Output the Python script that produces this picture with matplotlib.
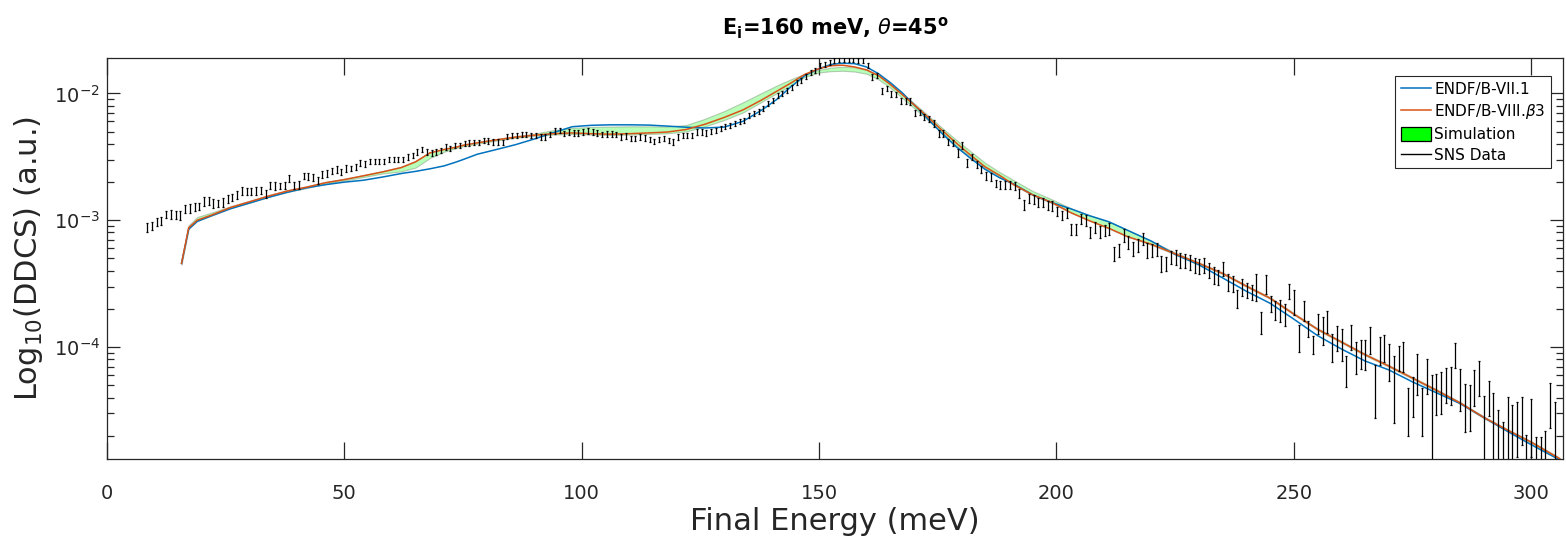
import numpy as np
import matplotlib
matplotlib.use("Agg")
import matplotlib.pyplot as plt
from matplotlib.lines import Line2D
from matplotlib.patches import Patch

# ---------------- data ----------------
title_text = r'$\mathbf{E_i}$=160 meV, $\theta$=45$^{\mathbf{o}}$'
x_label = 'Final Energy (meV)'
y_label = r'Log$_{10}$(DDCS) (a.u.)'
legend_labels = ['ENDF/B-VII.1', r'ENDF/B-VIII.$\beta$3', 'Simulation', 'SNS Data']
x_ticks = [0, 50, 100, 150, 200, 250, 300]

# SNS measured data: log10(DDCS) on a ~1 meV grid from 8.45 to 305 meV
sns_first_energy = 8.45
sns_last_energy = 305.0
sns_log10_ddcs = [
    -3.057, -3.047, -3.013, -3.005, -2.955, -2.955, -2.960, -2.960, -2.908, -2.905,
    -2.895, -2.890, -2.848, -2.845, -2.864, -2.868, -2.860, -2.829, -2.820, -2.803,
    -2.769, -2.772, -2.772, -2.769, -2.764, -2.790, -2.724, -2.727, -2.730, -2.727,
    -2.672, -2.724, -2.720, -2.651, -2.655, -2.664, -2.685, -2.638, -2.630, -2.610,
    -2.600, -2.620, -2.593, -2.590, -2.580, -2.549, -2.555, -2.535, -2.535, -2.535,
    -2.535, -2.522, -2.522, -2.522, -2.522, -2.501, -2.488, -2.462, -2.443, -2.462,
    -2.470, -2.462, -2.449, -2.423, -2.436, -2.409, -2.409, -2.396, -2.391, -2.388,
    -2.388, -2.370, -2.375, -2.383, -2.383, -2.388, -2.339, -2.331, -2.331, -2.323,
    -2.323, -2.331, -2.331, -2.344, -2.344, -2.323, -2.297, -2.292, -2.317, -2.305,
    -2.310, -2.310, -2.305, -2.297, -2.305, -2.310, -2.325, -2.318, -2.318, -2.325,
    -2.344, -2.336, -2.357, -2.357, -2.344, -2.352, -2.362, -2.378, -2.362, -2.357,
    -2.370, -2.383, -2.344, -2.331, -2.331, -2.331, -2.305, -2.305, -2.310, -2.299,
    -2.291, -2.278, -2.260, -2.252, -2.239, -2.220, -2.213, -2.173, -2.160, -2.142,
    -2.116, -2.082, -2.055, -2.020, -2.000, -1.976, -1.950, -1.911, -1.898, -1.864,
    -1.832, -1.819, -1.780, -1.775, -1.753, -1.740, -1.735, -1.735, -1.735, -1.735,
    -1.740, -1.740, -1.780, -1.870, -1.860, -1.980, -1.960, -2.005, -2.010, -2.060,
    -2.060, -2.063, -2.155, -2.150, -2.187, -2.200, -2.239, -2.317, -2.317, -2.383,
    -2.390, -2.470, -2.410, -2.550, -2.500, -2.560, -2.600, -2.651, -2.660, -2.710,
    -2.720, -2.720, -2.720, -2.730, -2.790, -2.875, -2.830, -2.835, -2.856, -2.860,
    -2.880, -2.885, -2.928, -2.961, -2.940, -3.070, -3.070, -2.990, -3.000, -3.092,
    -3.052, -3.092, -3.080, -3.066, -3.262, -3.236, -3.118, -3.171, -3.223, -3.197,
    -3.144, -3.236, -3.236, -3.230, -3.341, -3.341, -3.289, -3.289, -3.315, -3.320,
    -3.330, -3.354, -3.360, -3.354, -3.394, -3.433, -3.446, -3.380, -3.486, -3.499,
    -3.617, -3.525, -3.551, -3.565, -3.520, -3.800, -3.500, -3.655, -3.705, -3.710,
    -3.738, -3.555, -3.640, -3.919, -3.709, -3.853, -3.976, -3.813, -3.861, -3.793,
    -3.992, -3.924, -3.966, -4.176, -3.913, -4.071, -4.045, -4.050, -3.932, -4.300,
    -4.018, -3.997, -4.097, -4.260, -4.081, -4.063, -4.475, -4.365, -4.187, -4.475,
    -4.213, -4.450, -4.344, -4.333, -4.281, -4.281, -4.055, -4.307, -4.438, -4.443,
    -4.300, -4.228, -4.640, -4.386, -4.627, -4.693, -4.740, -4.620, -4.690, -4.596,
    -4.543, -4.850, -4.580, -4.850, -4.850, -4.830, -4.423, -4.700,
]
# relative (linear) uncertainty of each SNS point
sns_rel_err = [
    0.08, 0.07, 0.08, 0.08, 0.07, 0.08, 0.07, 0.08, 0.07, 0.08,
    0.08, 0.07, 0.08, 0.07, 0.08, 0.07, 0.08, 0.07, 0.07, 0.07,
    0.07, 0.07, 0.06, 0.07, 0.07, 0.07, 0.06, 0.07, 0.06, 0.06,
    0.06, 0.06, 0.07, 0.06, 0.06, 0.06, 0.06, 0.06, 0.06, 0.06,
    0.06, 0.05, 0.06, 0.05, 0.05, 0.06, 0.05, 0.05, 0.05, 0.05,
    0.05, 0.05, 0.05, 0.05, 0.05, 0.05, 0.05, 0.05, 0.05, 0.05,
    0.05, 0.05, 0.05, 0.05, 0.05, 0.05, 0.05, 0.05, 0.05, 0.05,
    0.05, 0.05, 0.05, 0.05, 0.05, 0.05, 0.05, 0.05, 0.05, 0.05,
    0.05, 0.05, 0.05, 0.05, 0.05, 0.05, 0.05, 0.05, 0.05, 0.05,
    0.05, 0.05, 0.05, 0.05, 0.05, 0.05, 0.05, 0.05, 0.05, 0.05,
    0.05, 0.05, 0.05, 0.05, 0.05, 0.05, 0.05, 0.05, 0.05, 0.05,
    0.05, 0.05, 0.05, 0.05, 0.05, 0.05, 0.05, 0.05, 0.05, 0.05,
    0.05, 0.05, 0.05, 0.05, 0.05, 0.05, 0.05, 0.05, 0.05, 0.05,
    0.045, 0.045, 0.045, 0.045, 0.045, 0.045, 0.045, 0.045, 0.045, 0.045,
    0.045, 0.045, 0.045, 0.045, 0.045, 0.045, 0.045, 0.045, 0.045, 0.045,
    0.05, 0.05, 0.05, 0.06, 0.05, 0.06, 0.05, 0.06, 0.05, 0.06,
    0.05, 0.06, 0.06, 0.05, 0.06, 0.06, 0.06, 0.06, 0.06, 0.06,
    0.06, 0.07, 0.06, 0.07, 0.06, 0.07, 0.07, 0.07, 0.07, 0.07,
    0.07, 0.07, 0.07, 0.07, 0.08, 0.09, 0.08, 0.08, 0.08, 0.08,
    0.08, 0.09, 0.08, 0.09, 0.09, 0.10, 0.10, 0.09, 0.10, 0.10,
    0.10, 0.11, 0.10, 0.11, 0.13, 0.12, 0.11, 0.12, 0.13, 0.12,
    0.11, 0.13, 0.12, 0.12, 0.14, 0.13, 0.12, 0.13, 0.13, 0.13,
    0.13, 0.14, 0.13, 0.14, 0.14, 0.15, 0.14, 0.13, 0.15, 0.15,
    0.16, 0.15, 0.14, 0.135, 0.24, 0.195, 0.165, 0.15, 0.165, 0.195,
    0.195, 0.135, 0.223, 0.24, 0.18, 0.15, 0.165, 0.18, 0.25, 0.195,
    0.25, 0.223, 0.28, 0.28, 0.223, 0.28, 0.25, 0.265, 0.24, 0.45,
    0.25, 0.24, 0.33, 0.54, 0.223, 0.265, 0.41, 0.35, 0.36, 0.41,
    0.31, 0.70, 0.36, 0.36, 0.31, 0.33, 0.223, 0.36, 0.41, 0.40,
    0.32, 0.31, 0.78, 0.31, 0.83, 0.57, 0.42, 0.69, 0.71, 0.46,
    0.41, 0.44, 0.48, 0.39, 0.39, 0.46, 0.39, 0.86,
]

# evaluated / simulated curves, log10(DDCS)
curve_energy = [
    15.7, 17.2, 19, 22, 26, 30, 34, 38, 42, 46,
    50, 54, 58, 62, 65, 68, 71, 73.5, 75, 78,
    82, 86, 90, 94, 98, 102, 106, 110, 114, 118,
    122, 126, 130, 134, 138, 141, 144, 147, 150, 152.5,
    155, 157.5, 160, 162.5, 165, 167.5, 170, 173, 176, 179,
    182, 185, 188, 191, 195, 199, 203, 207, 211, 215,
    220, 225, 230, 235, 240, 245, 250, 255, 260, 265,
    270, 275, 280, 285, 290, 295, 300, 306,
]
endf7_log10 = [
    -3.34, -3.07, -3.01, -2.965, -2.91, -2.865, -2.82, -2.78, -2.745, -2.72,
    -2.70, -2.685, -2.66, -2.632, -2.615, -2.595, -2.572, -2.542, -2.522, -2.48,
    -2.443, -2.405, -2.36, -2.31, -2.263, -2.252, -2.248, -2.248, -2.25, -2.258,
    -2.267, -2.273, -2.266, -2.22, -2.13, -2.05, -1.95, -1.86, -1.805, -1.772,
    -1.762, -1.766, -1.792, -1.845, -1.915, -1.995, -2.09, -2.205, -2.32, -2.425,
    -2.515, -2.60, -2.665, -2.715, -2.80, -2.86, -2.91, -2.965, -3.012, -3.08,
    -3.165, -3.27, -3.352, -3.455, -3.56, -3.655, -3.78, -3.91, -4.015, -4.11,
    -4.18, -4.275, -4.36, -4.445, -4.555, -4.665, -4.77, -4.89,
]
endf8_log10 = [
    -3.34, -3.06, -3.00, -2.96, -2.90, -2.855, -2.81, -2.77, -2.74, -2.705,
    -2.68, -2.65, -2.62, -2.585, -2.54, -2.47, -2.443, -2.425, -2.41, -2.39,
    -2.367, -2.345, -2.33, -2.318, -2.312, -2.318, -2.322, -2.318, -2.312, -2.305,
    -2.285, -2.243, -2.19, -2.13, -2.05, -1.985, -1.92, -1.85, -1.805, -1.782,
    -1.778, -1.792, -1.815, -1.86, -1.93, -2.01, -2.09, -2.19, -2.295, -2.395,
    -2.49, -2.58, -2.646, -2.72, -2.80, -2.86, -2.94, -3.005, -3.063, -3.13,
    -3.19, -3.265, -3.34, -3.42, -3.52, -3.615, -3.74, -3.86, -3.96, -4.06,
    -4.15, -4.245, -4.34, -4.44, -4.555, -4.655, -4.75, -4.88,
]
sim_high_log10 = [
    -3.33, -3.04, -2.975, -2.94, -2.89, -2.848, -2.803, -2.763, -2.733, -2.698,
    -2.673, -2.645, -2.612, -2.578, -2.532, -2.462, -2.436, -2.418, -2.403, -2.383,
    -2.36, -2.338, -2.318, -2.29, -2.272, -2.265, -2.262, -2.26, -2.26, -2.262,
    -2.25, -2.20, -2.14, -2.07, -1.995, -1.94, -1.89, -1.845, -1.815, -1.797,
    -1.79, -1.795, -1.815, -1.858, -1.922, -2.0, -2.078, -2.175, -2.275, -2.37,
    -2.46, -2.548, -2.62, -2.685, -2.77, -2.835, -2.905, -2.962, -3.01, -3.078,
    -3.165, -3.255, -3.333, -3.412, -3.512, -3.607, -3.732, -3.852, -3.952, -4.052,
    -4.142, -4.237, -4.332, -4.432, -4.547, -4.647, -4.742, -4.872,
]
sim_low_log10 = [
    -3.35, -3.07, -3.005, -2.965, -2.905, -2.862, -2.817, -2.777, -2.747, -2.712,
    -2.687, -2.66, -2.632, -2.615, -2.585, -2.51, -2.46, -2.432, -2.417, -2.397,
    -2.372, -2.35, -2.335, -2.325, -2.32, -2.325, -2.328, -2.325, -2.32, -2.315,
    -2.30, -2.26, -2.21, -2.15, -2.065, -2.0, -1.94, -1.87, -1.835, -1.825,
    -1.822, -1.828, -1.845, -1.89, -1.955, -2.035, -2.115, -2.215, -2.315, -2.415,
    -2.505, -2.59, -2.66, -2.722, -2.805, -2.865, -2.94, -3.005, -3.065, -3.13,
    -3.195, -3.27, -3.345, -3.425, -3.525, -3.62, -3.745, -3.866, -3.966, -4.066,
    -4.156, -4.251, -4.346, -4.446, -4.561, -4.661, -4.756, -4.886,
]

# ---------------- figure ----------------
W, H = 1566, 547
fig = plt.figure(figsize=(W / 100, H / 100), dpi=100)
ax_l, ax_r, ax_t, ax_b = 107, 1563, 58, 459
ax = fig.add_axes([ax_l / W, 1 - ax_b / H, (ax_r - ax_l) / W, (ax_b - ax_t) / H])

blue = '#0072BD'
orange = '#D95319'
dark = '#262626'

cE = np.array(curve_energy)
ax.fill_between(cE, 10 ** np.array(sim_low_log10), 10 ** np.array(sim_high_log10),
                facecolor=(0.0, 1.0, 0.0, 0.28), edgecolor=(0.45, 0.55, 0.45, 0.45),
                linewidth=0.8, zorder=2)
ax.plot(cE, 10 ** np.array(endf7_log10), color=blue, lw=1.1, zorder=3)
ax.plot(cE, 10 ** np.array(endf8_log10), color=orange, lw=1.1, zorder=3)

sE = np.linspace(sns_first_energy, sns_last_energy, len(sns_log10_ddcs))
sV = 10 ** np.array(sns_log10_ddcs)
sErr = sV * np.array(sns_rel_err)
ax.errorbar(sE, sV, yerr=sErr, fmt='none', ecolor='black', elinewidth=0.9,
            capsize=0.9, capthick=0.9, zorder=4)

ax.set_yscale('log')
ax.set_xlim(0, 306.7)
ax.set_ylim(1.31e-5, 0.019)
ax.set_xticks(x_ticks)
ax.set_xticklabels([str(t) for t in x_ticks])
ax.tick_params(axis='both', which='both', direction='in', top=True, right=True,
               colors=dark, labelcolor=dark, width=0.9)
ax.tick_params(axis='x', which='major', length=12, labelsize=14, pad=18)
ax.tick_params(axis='x', which='minor', length=0)
ax.tick_params(axis='y', which='major', length=9.5, labelsize=14, pad=5)
ax.tick_params(axis='y', which='minor', length=5)
for sp in ax.spines.values():
    sp.set_color(dark)
    sp.set_linewidth(0.9)

handles = [
    Line2D([], [], color=blue, lw=1.1),
    Line2D([], [], color=orange, lw=1.1),
    Patch(facecolor='#00FF00', edgecolor='black', linewidth=0.9),
    Line2D([], [], color='black', lw=1.0),
]
leg = ax.legend(handles, legend_labels, loc='upper right',
                bbox_to_anchor=((1551 - ax_l) / (ax_r - ax_l), (ax_b - 76) / (ax_b - ax_t)),
                fontsize=11, frameon=True, fancybox=False, framealpha=1,
                edgecolor=dark, handlelength=2.0, handleheight=1.1, handletextpad=0.2,
                labelspacing=0.35, borderpad=0.35, borderaxespad=0)
leg.get_frame().set_linewidth(0.8)

fig.text((ax_l + ax_r) / 2 / W, 1 - 28 / H, title_text, ha='center', va='center',
         fontsize=15, fontweight='bold', color='black')
fig.text((ax_l + ax_r) / 2 / W, 1 - 522 / H, x_label, ha='center', va='center',
         fontsize=22, color=dark)
fig.text(29 / W, 1 - 258 / H, y_label, ha='center', va='center', rotation=90,
         fontsize=22, color=dark)

fig.savefig('out.png', dpi=100)
